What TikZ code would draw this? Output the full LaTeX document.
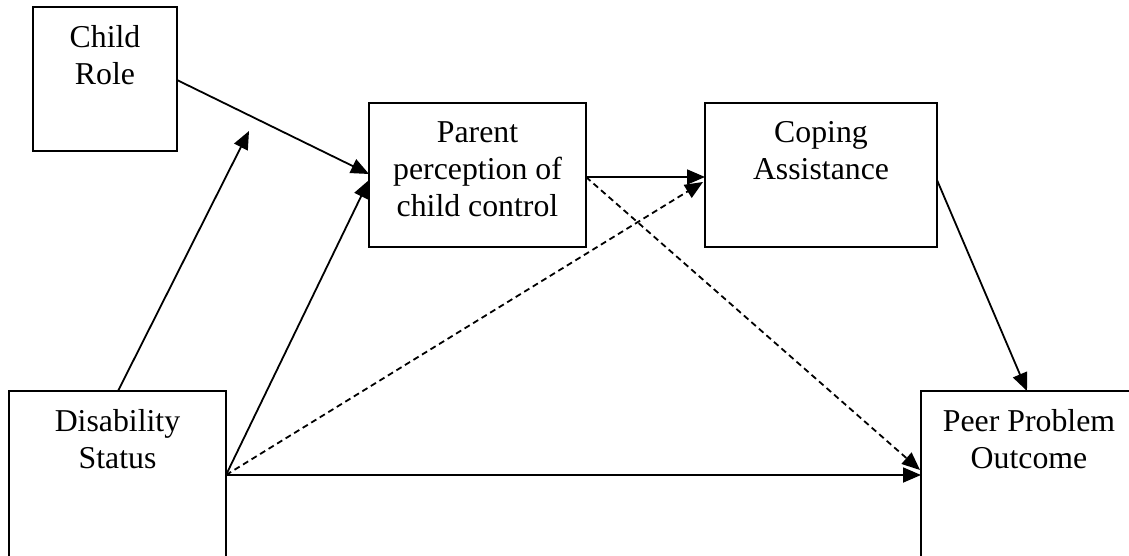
\documentclass[tikz,border=0pt]{standalone}
\usepackage{fontspec}
\setmainfont{Liberation Serif}
\usetikzlibrary{arrows.meta,calc}
\begin{document}
\begin{tikzpicture}[x=1pt,y=-1pt,
  box/.style={draw,line width=1.8pt,inner sep=0pt,outer sep=0pt,anchor=north west},
  lbl/.style={align=center,inner sep=0pt,anchor=north,font=\fontsize{31.8}{36.8}\selectfont},
  arr/.style={line width=1.8pt,-{Triangle[length=18pt,width=15pt]}},
  dsh/.style={arr,dash pattern=on 6pt off 4pt}]
\useasboundingbox (0,0) rectangle (1129,556);
\clip (0,0) rectangle (1129,556);
\node[box,minimum width=144pt,minimum height=144pt] (cr) at (33,7) {};
\node[box,minimum width=217pt,minimum height=144pt] (pp) at (369,103) {};
\node[box,minimum width=232pt,minimum height=144pt] (ca) at (705,103) {};
\node[box,minimum width=217pt,minimum height=200pt] (ds) at (9,391) {};
\node[box,minimum width=216pt,minimum height=200pt] (po) at (921,391) {};
\node[lbl] (crt) at ([yshift=-18.5pt]cr.north) {Child\\Role};
\node[lbl] (ppt) at ([yshift=-18.5pt]pp.north) {Parent\\perception of\\child control};
\node[lbl] (cat) at ([yshift=-18.5pt]ca.north) {Coping\\Assistance};
\node[lbl] (dst) at ([yshift=-18.5pt]ds.north) {Disability\\Status};
\node[lbl] (pot) at ([yshift=-18.5pt]po.north) {Peer Problem\\Outcome};
\coordinate (mod) at (249,131);
\draw[arr] ([yshift=-73pt]cr.north east) -- ([yshift=-71pt]pp.north west);
\draw[arr] ([xshift=109pt]ds.north west) -- (mod);
\draw[arr] ([yshift=-84pt]ds.north east) -- ([yshift=-77pt]pp.north west);
\draw[arr] ([yshift=-74pt]pp.north east) -- ([yshift=-74pt]ca.north west);
\draw[dsh] ([yshift=-84pt]ds.north east) -- ([xshift=-2pt,yshift=-79pt]ca.north west);
\draw[dsh] ([yshift=-74pt]pp.north east) -- ([xshift=-1pt,yshift=-79pt]po.north west);
\draw[arr] ([yshift=-84pt]ds.north east) -- ([yshift=-84pt]po.north west);
\draw[arr] ([yshift=-77pt]ca.north east) -- ([xshift=106pt]po.north west);
\end{tikzpicture}
\end{document}
